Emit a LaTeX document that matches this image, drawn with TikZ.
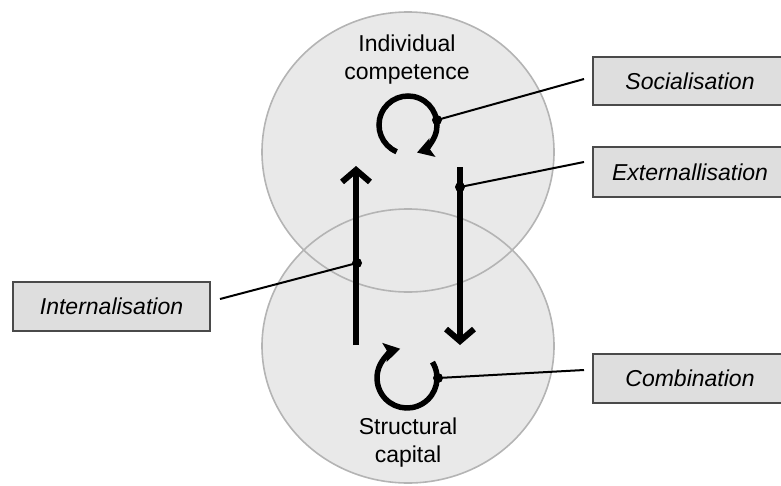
\documentclass[tikz,border=0pt]{standalone}
\usepackage{fontspec}
\setmainfont{Liberation Sans}
\usetikzlibrary{arrows.meta}
\definecolor{discfill}{HTML}{E9E9E9}
\definecolor{discline}{HTML}{B4B4B4}
\definecolor{boxfill}{HTML}{DEDEDE}
\definecolor{boxline}{HTML}{4A4A4A}
\tikzset{
  disc/.style={fill=discfill},
  discedge/.style={draw=discline, line width=1.6pt},
  title/.style={align=center, inner sep=0pt, font=\fontsize{23}{28}\selectfont},
  labelbox/.style={draw=boxline, fill=boxfill, line width=1.4pt, inner sep=0pt,
    minimum width=194pt, minimum height=48pt, font=\fontsize{23}{28}\selectfont\itshape},
  flowarrow/.style={line width=6pt, -{Straight Barb[length=12pt,width=28pt]}},
  looparrow/.style={line width=5.5pt, -{Stealth[length=16pt,width=19pt,inset=3pt]}},
  leader/.style={line width=2pt},
  dot/.style={circle, fill=black, inner sep=0pt, minimum size=10pt},
}
\begin{document}
\begin{tikzpicture}[x=1pt, y=-1pt]
  \useasboundingbox (0,0) rectangle (781,485);

  % two overlapping discs
  \fill[disc] (408,152) ellipse [x radius=146, y radius=140];
  \fill[disc] (408,346) ellipse [x radius=146, y radius=137];
  \draw[discedge] (408,152) ellipse [x radius=146, y radius=140];
  \draw[discedge] (408,346) ellipse [x radius=146, y radius=137];

  % disc titles
  \node[title] (ic) at (407,60) {Individual\\competence};
  \node[title] (sc) at (408,443) {Structural\\capital};

  % vertical transfer arrows
  \coordinate (upfoot) at (356,345);
  \coordinate (uptip) at (356,166);
  \coordinate (downtop) at (460,167);
  \coordinate (downtip) at (460,345);
  \draw[flowarrow] (upfoot) -- (uptip);
  \draw[flowarrow] (downtop) -- (downtip);

  % circular arrows inside each disc
  \coordinate (topc) at (408,125);
  \coordinate (botc) at (407,378);
  \draw[looparrow] ([shift={(113:29)}]topc) arc [start angle=113, end angle=432, radius=29];
  \draw[looparrow] ([shift={(-32:30)}]botc) arc [start angle=-32, end angle=257, radius=30];

  % label boxes
  \node[labelbox] (soc) at (690,81) {Socialisation};
  \node[labelbox, minimum height=50pt] (ext) at (690,172) {Externallisation};
  \node[labelbox, minimum height=49pt] (com) at (690,378.5) {Combination};
  \node[labelbox, minimum width=197pt, minimum height=49pt] (int) at (111.5,306.5) {Internalisation};

  % leader lines with their dots
  \coordinate (esoc) at (584,79);
  \coordinate (eext) at (584,162);
  \coordinate (ecom) at (584,370);
  \coordinate (eint) at (220,299);
  \coordinate (psoc) at (437,120);
  \coordinate (pext) at (460,187);
  \coordinate (pint) at (357,263);
  \coordinate (pcom) at (438,378);
  \draw[leader] (psoc) -- (esoc);
  \draw[leader] (pext) -- (eext);
  \draw[leader] (pcom) -- (ecom);
  \draw[leader] (pint) -- (eint);
  \node[dot] (dsoc) at (psoc) {};
  \node[dot] (dext) at (pext) {};
  \node[dot] (dint) at (pint) {};
  \node[dot] (dcom) at (pcom) {};
\end{tikzpicture}
\end{document}
